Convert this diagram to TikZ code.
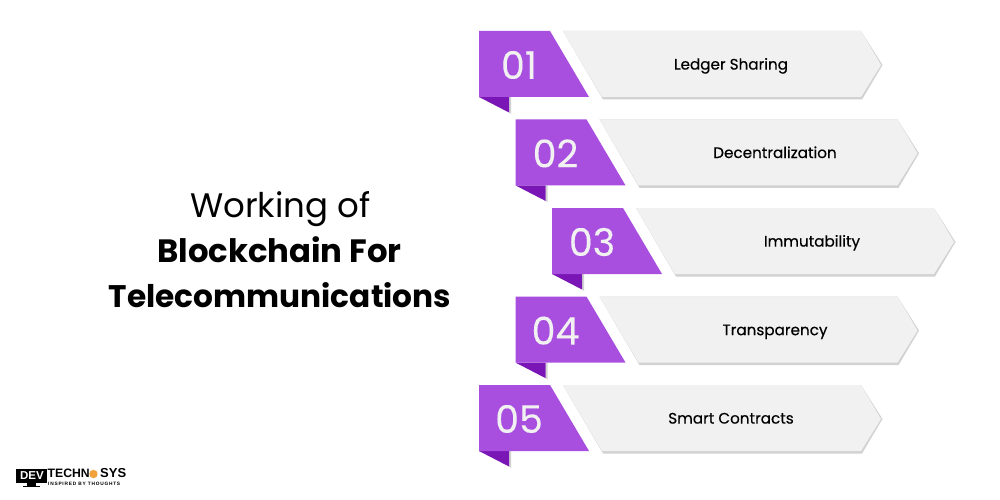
\documentclass[tikz,border=0pt]{standalone}
\usepackage{fontspec}
\setmainfont{Poppins}
\newfontfamily\logofont{Liberation Sans}
\newfontfamily\medfont[FakeBold=0.35]{Poppins}
\newfontfamily\numfont[FakeBold=0.2]{Poppins}
\newfontfamily\tagfont[LetterSpace=16]{Liberation Sans Bold}
\definecolor{purp}{HTML}{A84FE0}
\definecolor{purpd}{HTML}{7A16B5}
\definecolor{pale}{HTML}{F1F1F1}
\definecolor{shade}{HTML}{D2D2D2}
\definecolor{orangeg}{HTML}{F2A23A}
\tikzset{
  tab/.style={fill=purp,draw=none},
  fold/.style={fill=purpd,draw=none},
  band/.style={fill=pale,draw=none},
  bandshadow/.style={fill=shade,draw=none},
  numtext/.style={font=\numfont\fontsize{38}{38}\selectfont,text=pale,inner sep=0pt,anchor=center},
  labeltext/.style={font=\medfont\fontsize{15.2}{18}\selectfont,text=black,inner sep=0pt,anchor=base},
  titletext/.style={font=\fontsize{34}{44}\selectfont,text=black,inner sep=0pt,anchor=center},
  titlebold/.style={titletext,font=\fontsize{31.2}{44}\selectfont\bfseries},
  titleboldb/.style={titletext,font=\fontsize{32.3}{44}\selectfont\bfseries}
}
\newcommand{\rowitem}[6]{%
\begin{scope}[shift={(#1,#2)}]
  \fill[bandshadow] (563,31)--(861,31)--(882.5,65)--(862,99.5)--(603,99.5)--(563,31)--cycle;
  \fill[band] (563,31)--(861,31)--(881,65)--(861,97)--(602,97)--cycle;
  \fill[bandshadow] (509,97)--(511,97)--(511,114)--(509,112.5)--cycle;
  \fill[fold] (479,97)--(509,97)--(509,112.5)--cycle;
  \fill[tab] (479,31)--(550,31)--(589,97)--(479,97)--cycle;
  \node[numtext] (n#5) at (519,65) {#3};
  \node[labeltext] (l#5) at (#6,69.6) {#4};
\end{scope}}
\begin{document}
\begin{tikzpicture}[x=1pt,y=-1pt]
\useasboundingbox (0,0) rectangle (1000,500);
\fill[white] (0,0) rectangle (1000,500);
\rowitem{0}{0}{01}{Ledger Sharing}{a}{731}
\rowitem{36.5}{88.4}{02}{Decentralization}{b}{738.5}
\rowitem{73}{177}{03}{Immutability}{c}{739}
\rowitem{36.5}{265.6}{04}{Transparency}{d}{738.5}
\rowitem{0}{354}{05}{Smart Contracts}{e}{731}
\node[titletext] (t1) at (280.5,209) {Working of};
\node[titleboldb] (t2) at (279.5,250) {Blockchain For};
\node[titlebold] (t3) at (280,295) {Telecommunications};
% logo
\fill[black] (16,468.5)--(47,468.5)--(47,483)--(16,483)--cycle;
\fill[black] (27,483) rectangle (36,486);
\fill[black] (23,486) rectangle (40,487);
\node[inner sep=0pt,text=white,font=\logofont\bfseries\fontsize{11.5}{12}\selectfont] (ld) at (32,476) {DEV};
\node[inner sep=0pt,anchor=west,font=\logofont\bfseries\fontsize{12.2}{13}\selectfont] (lt) at (47.5,473.5) {TECHN};
\fill[orangeg] (93.5,474) circle (4.2);
\node[inner sep=0pt,anchor=west,font=\logofont\bfseries\fontsize{13}{13}\selectfont] (ls) at (100,473.5) {SYS};
\node[inner sep=0pt,anchor=west,font=\tagfont\fontsize{4.8}{5}\selectfont] (lg) at (48,483.6) {INSPIRED BY THOUGHTS};
\end{tikzpicture}
\end{document}
